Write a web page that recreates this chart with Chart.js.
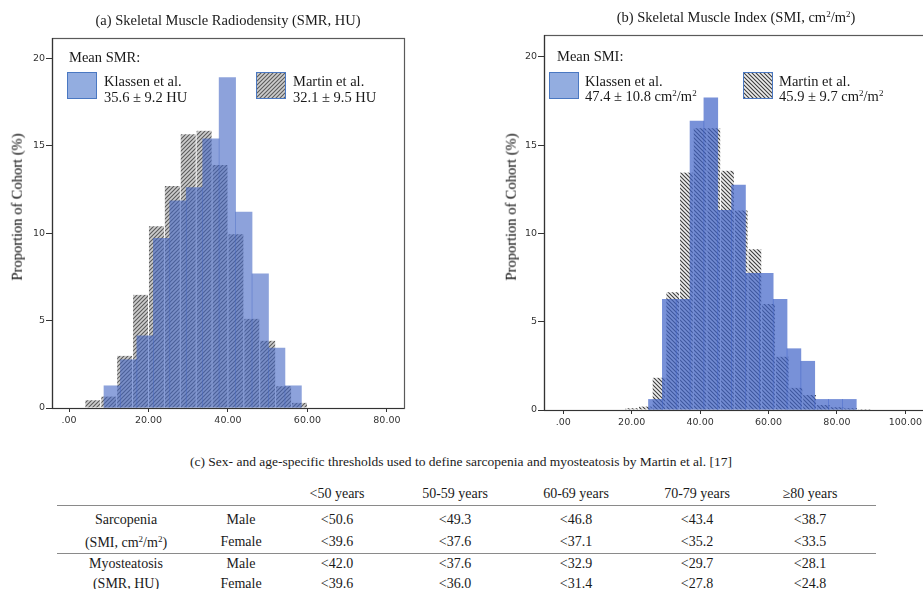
<!DOCTYPE html>
<html>
<head>
<meta charset="utf-8">
<script src="https://cdn.jsdelivr.net/npm/chart.js@4/dist/chart.umd.min.js"></script>
<style>
  body { margin: 0; width: 923px; height: 589px; overflow: hidden; position: relative; background: #fff;
         font-family: "Liberation Serif", "DejaVu Serif", serif; color: #1a1a1a; }
  .abs { position: absolute; white-space: nowrap; line-height: 1; }
  .wrap { position: absolute; top: 0; height: 440px; }
  .sw { position: absolute; width: 28px; height: 25px; border: 1px solid #4a78c2; }
  .rule { position: absolute; height: 0; border-top: 1.5px solid #8a8a8a; }
</style>
</head>
<body>
<div class="wrap" style="left:0; width:460px"><canvas id="chartA"></canvas></div>
<div class="wrap" style="left:460px; width:480px"><canvas id="chartB"></canvas></div>
<div id="text"></div>
<script>
// axis ticks
const yTicks = [0, 5, 10, 15, 20];
const smrTicks = [0, 20, 40, 60, 80];
const smrTickLabels = ['.00', '20.00', '40.00', '60.00', '80.00'];
const smiTicks = [0, 20, 40, 60, 80, 100];
const smiTickLabels = ['.00', '20.00', '40.00', '60.00', '80.00', '100.00'];

// (a) SMR histogram - bin centres (HU) and proportion of cohort (%)
const smrKlassenBins = [10.87, 15.01, 19.15, 23.29, 27.43, 31.57, 35.71, 39.85, 43.99, 48.13, 52.27, 56.41];
const smrKlassen = [1.27, 2.76, 4.13, 9.7, 11.85, 12.6, 15.4, 18.9, 11.2, 7.67, 3.43, 1.27];
const smrMartinBins = [6, 10, 14, 18, 22, 26, 30, 34, 38, 42, 46, 50, 54, 58];
const smrMartin = [0.45, 0.66, 2.99, 6.47, 10.4, 12.7, 15.66, 15.86, 13.9, 9.94, 5.1, 3.85, 1.24, 0.3];

// (b) SMI histogram - bin centres (cm2/m2) and proportion of cohort (%)
const smiKlassenBins = [26.93, 30.98, 35.03, 39.08, 43.13, 47.18, 51.23, 55.28, 59.33, 63.38, 67.43, 71.48, 75.53, 79.58, 83.63];
const smiKlassen = [0.6, 6.27, 6.27, 16.36, 17.68, 11.3, 12.74, 7.74, 7.74, 6.27, 3.47, 2.76, 0.6, 0.6, 0.6];
const smiMartinBins = [20, 24, 28, 32, 36, 40, 44, 48, 52, 56, 60, 64, 68, 72, 76, 80, 84, 88];
const smiMartin = [0.1, 0.2, 1.83, 6.67, 13.44, 15.95, 15.95, 13.55, 11.3, 9.1, 6.0, 3.02, 1.26, 0.85, 0.28, 0.15, 0.1, 0.05];

// (c) thresholds table
const ageGroups = ['<50 years', '50-59 years', '60-69 years', '70-79 years', '\u226580 years'];
const sarcMale = [50.6, 49.3, 46.8, 43.4, 38.7];
const sarcFemale = [39.6, 37.6, 37.1, 35.2, 33.5];
const myoMale = [42.0, 37.6, 32.9, 29.7, 28.1];
const myoFemale = [39.6, 36.0, 31.4, 27.8, 24.8];

// hatch tile: dir 1 = "/", dir -1 = "\"
function hatchTile(dir, bg, fg) {
    const c = document.createElement('canvas');
    c.width = 4; c.height = 4;
    const g = c.getContext('2d');
    g.fillStyle = bg; g.fillRect(0, 0, 4, 4);
    g.strokeStyle = fg; g.lineWidth = 1.1;
    g.beginPath();
    if (dir > 0) {
        g.moveTo(-1, 5); g.lineTo(5, -1);
        g.moveTo(-1, 1); g.lineTo(1, -1);
        g.moveTo(3, 5); g.lineTo(5, 3);
    } else {
        g.moveTo(-1, -1); g.lineTo(5, 5);
        g.moveTo(3, -1); g.lineTo(5, 1);
        g.moveTo(-1, 3); g.lineTo(1, 5);
    }
    g.stroke();
    return c;
}
const tileA = hatchTile(1, '#cdcdcd', '#5a5a5a');
const tileB = hatchTile(-1, '#eeeeee', '#3c3c3c');
const ctxA = document.getElementById('chartA').getContext('2d');
const ctxB = document.getElementById('chartB').getContext('2d');

const frame = {
    id: 'frame',
    afterDraw(chart) {
        const a = chart.chartArea, g = chart.ctx;
        g.save();
        g.strokeStyle = '#5a5a5a';
        g.lineWidth = 1.2;
        g.strokeRect(a.left + 0.5, a.top + 0.5, a.right - a.left, a.bottom - a.top);
        g.strokeStyle = '#333';
        g.beginPath();
        g.moveTo(a.left + 0.5, a.top); g.lineTo(a.left + 0.5, a.bottom + 0.5); g.lineTo(a.right, a.bottom + 0.5);
        g.stroke();
        g.restore();
    }
};

const tickFont = { family: 'DejaVu Sans', size: 9.5 };

function histChart(ctx, o) {
    return new Chart(ctx, {
        type: 'bar',
        data: {
            datasets: [{
                label: 'Klassen et al.',
                data: o.kBins.map((x, i) => ({ x: x, y: o.kVals[i] })),
                xAxisID: 'xk',
                backgroundColor: o.blue,
                borderWidth: 0,
                grouped: false,
                barPercentage: 1, categoryPercentage: 1,
                order: 1
            }, {
                label: 'Martin et al.',
                data: o.mBins.map((x, i) => ({ x: x, y: o.mVals[i] })),
                xAxisID: 'x',
                backgroundColor: ctx.createPattern(o.tile, 'repeat'),
                borderColor: 'rgba(255,255,255,0.85)',
                borderWidth: { left: 0.8, right: 0.8, top: 0, bottom: 0 },
                grouped: false,
                barPercentage: 1, categoryPercentage: 1,
                order: 2
            }]
        },
        options: {
            responsive: true,
            maintainAspectRatio: false,
            animation: false,
            devicePixelRatio: 1,
            layout: { padding: o.padding },
            plugins: { legend: { display: false }, tooltip: { enabled: false } },
            scales: {
                x: {
                    type: 'linear', min: o.xMin, max: o.xMax, offset: false,
                    afterFit: s => { s.height = o.xHeight; },
                    afterBuildTicks: s => { s.ticks = o.xTicks.map(v => ({ value: v })); },
                    ticks: { callback: (v, i) => o.xLabels[i], font: tickFont, color: '#333', padding: 3, maxRotation: 0, autoSkip: false },
                    grid: { offset: false, drawOnChartArea: false, drawTicks: true, tickLength: 4, color: '#333' },
                    border: { display: false }
                },
                xk: {
                    type: 'linear', min: o.xMin, max: o.xMax, offset: false, display: false
                },
                y: {
                    min: 0, max: o.yMax,
                    afterFit: s => { s.width = o.yWidth; },
                    afterBuildTicks: s => { s.ticks = yTicks.map(v => ({ value: v })); },
                    ticks: { font: tickFont, color: '#333', padding: 1 },
                    grid: { drawOnChartArea: false, drawTicks: true, tickLength: 6, color: '#333' },
                    border: { display: false }
                }
            }
        },
        plugins: [frame]
    });
}

histChart(ctxA, {
    kBins: smrKlassenBins, kVals: smrKlassen, mBins: smrMartinBins, mVals: smrMartin,
    blue: 'rgba(65,100,195,0.6)', tile: tileA,
    xMin: -4.28, xMax: 84.3, yMax: 21.16, xTicks: smrTicks, xLabels: smrTickLabels,
    padding: { top: 38, right: 56, left: 0, bottom: 0 }, yWidth: 52, xHeight: 32
});
histChart(ctxB, {
    kBins: smiKlassenBins, kVals: smiKlassen, mBins: smiMartinBins, mVals: smiMartin,
    blue: 'rgba(62,98,200,0.7)', tile: tileB,
    xMin: -5.64, xMax: 107.2, yMax: 21.23, xTicks: smiTicks, xLabels: smiTickLabels,
    padding: { top: 35, right: 10, left: 0, bottom: 0 }, yWidth: 84, xHeight: 30
});

// texts
const host = document.getElementById('text');
function place(html, x, y, size, align) {
    const d = document.createElement('div');
    d.className = 'abs';
    d.innerHTML = html;
    d.style.left = x + 'px';
    d.style.top = y + 'px';
    d.style.fontSize = size + 'px';
    d.style.transform = align === 'left' ? 'translateY(-50%)' : 'translate(-50%,-50%)';
    host.appendChild(d);
    return d;
}
function swatch(x, y, bg) {
    const d = document.createElement('div');
    d.className = 'sw';
    d.style.left = x + 'px';
    d.style.top = y + 'px';
    d.style.background = bg;
    host.appendChild(d);
}
const esc = s => s.replace(/</g, '&lt;');
const sup2 = '<sup style="font-size:9px;vertical-align:5px">2</sup>';

place('(a) Skeletal Muscle Radiodensity (SMR, HU)', 228, 20, 14.5);
place('(b) Skeletal Muscle Index (SMI, cm' + sup2 + '/m' + sup2 + ')', 736, 17, 14.5);
[17, 511].forEach(x => {
    const t = place('Proportion of Cohort (%)', x, 207, 14.5);
    t.style.transform = 'translate(-50%,-50%) rotate(-90deg)';
    t.style.color = '#000';
});

// legend (a)
place('Mean SMR:', 69, 57, 14.5, 'left');
swatch(67, 72, '#93ade0');
place('Klassen et al.', 104, 81, 14.5, 'left');
place('35.6 ± 9.2 HU', 104, 97, 14.5, 'left');
swatch(256, 72, 'url(' + tileA.toDataURL() + ')');
place('Martin et al.', 293, 81, 14.5, 'left');
place('32.1 ± 9.5 HU', 293, 97, 14.5, 'left');
// legend (b)
place('Mean SMI:', 557, 56, 14.5, 'left');
swatch(549, 72, '#93ade0');
place('Klassen et al.', 585, 81, 14.5, 'left');
place('47.4 ± 10.8 cm' + sup2 + '/m' + sup2, 585, 96, 14.5, 'left');
swatch(743, 72, 'url(' + tileB.toDataURL() + ')');
place('Martin et al.', 779, 81, 14.5, 'left');
place('45.9 ± 9.7 cm' + sup2 + '/m' + sup2, 779, 96, 14.5, 'left');

// table (c)
place('(c) Sex- and age-specific thresholds used to define sarcopenia and myosteatosis by Martin et al. [17]', 461, 462, 13.5);
const colX = [337, 455, 576, 697, 810];
ageGroups.forEach((g, i) => place(esc(g), colX[i], 494, 14));
function rule(y) {
    const d = document.createElement('div');
    d.className = 'rule';
    d.style.left = '57px'; d.style.width = '819px'; d.style.top = y + 'px';
    host.appendChild(d);
}
rule(505);
rule(553);
const rows = [
    ['Sarcopenia', 'Male', sarcMale, 520],
    ['(SMI, cm' + sup2 + '/m' + sup2 + ')', 'Female', sarcFemale, 542],
    ['Myosteatosis', 'Male', myoMale, 564],
    ['(SMR, HU)', 'Female', myoFemale, 584]
];
rows.forEach(r => {
    place(r[0], 126, r[3], 14);
    place(r[1], 241, r[3], 14);
    r[2].forEach((v, i) => place('&lt;' + v.toFixed(1), colX[i], r[3], 14));
});
</script>
</body>
</html>
